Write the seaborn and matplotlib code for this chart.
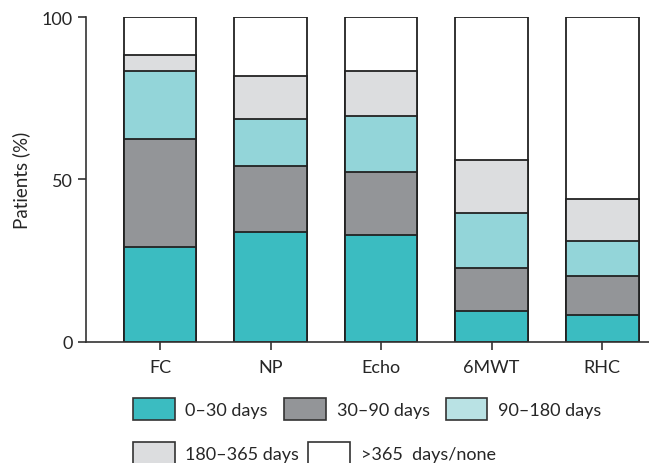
import numpy as np
import pandas as pd
import matplotlib.pyplot as plt
import seaborn as sns
from matplotlib.patches import Patch

# -----------------------------
# Data (percent of patients)
# -----------------------------
tests = ["FC", "NP", "Echo", "6MWT", "RHC"]
labels = ["0–30 days", "30–90 days", "90–180 days", "180–365 days", ">365  days/none"]

d0_30 = [29.1, 33.9, 32.9, 9.6, 8.4]
d30_90 = [33.4, 20.2, 19.3, 13.1, 12.0]
d90_180 = [20.8, 14.5, 17.5, 16.9, 10.7]
d180_365 = [5.1, 13.2, 13.6, 16.4, 12.9]
d365_none = [11.6, 18.2, 16.7, 44.0, 56.0]

colors = ["#3bbcc1", "#939598", "#93d5d9", "#dcdddf", "#ffffff"]
legend_colors = ["#3bbcc1", "#939598", "#b9e2e4", "#dcdddf", "#ffffff"]

df = pd.DataFrame({
    "test": tests,
    labels[0]: d0_30,
    labels[1]: d30_90,
    labels[2]: d90_180,
    labels[3]: d180_365,
    labels[4]: d365_none,
})
cum = df[labels].cumsum(axis=1)

sns.set_theme(style="ticks")
plt.rcParams["font.family"] = ["Lato", "DejaVu Sans"]

fig = plt.figure(figsize=(6.49, 4.64), dpi=100)
ax = fig.add_axes([0.1325, 0.261, 0.8675, 0.7])

# stacked bars: draw cumulative totals from the top layer down
for lab, col in zip(labels[::-1], colors[::-1]):
    sns.barplot(
        x=df["test"], y=cum[lab], color=col, ax=ax,
        width=0.66, edgecolor="#222222", linewidth=1.3,
        saturation=1, errorbar=None,
    )

ax.set_ylim(0, 100)
ax.set_xlim(-0.67, 4.425)
ax.set_yticks([0, 50, 100])
ax.set_xlabel("")
ax.set_ylabel("Patients (%)", fontsize=13.5, labelpad=8)
ax.tick_params(axis="both", labelsize=13, length=6, width=1.2, color="#333333")
ax.tick_params(axis="x", pad=6)
sns.despine(ax=ax)
for s in ["left", "bottom"]:
    ax.spines[s].set_linewidth(1.2)
    ax.spines[s].set_color("#333333")

handles = [Patch(facecolor=c, edgecolor="#333333", linewidth=1.2) for c in legend_colors]

fig.legend(
    handles[:3], labels[:3], ncol=3, loc="center left",
    bbox_to_anchor=(0.18, 0.117), frameon=False, fontsize=13,
    handlelength=2.3, handleheight=1.5, handletextpad=0.6, columnspacing=0.9,
)
fig.legend(
    handles[3:], labels[3:], ncol=2, loc="center left",
    bbox_to_anchor=(0.18, 0.022), frameon=False, fontsize=13,
    handlelength=2.3, handleheight=1.5, handletextpad=0.6, columnspacing=0.5,
)

fig.savefig("out.png", dpi=100)
